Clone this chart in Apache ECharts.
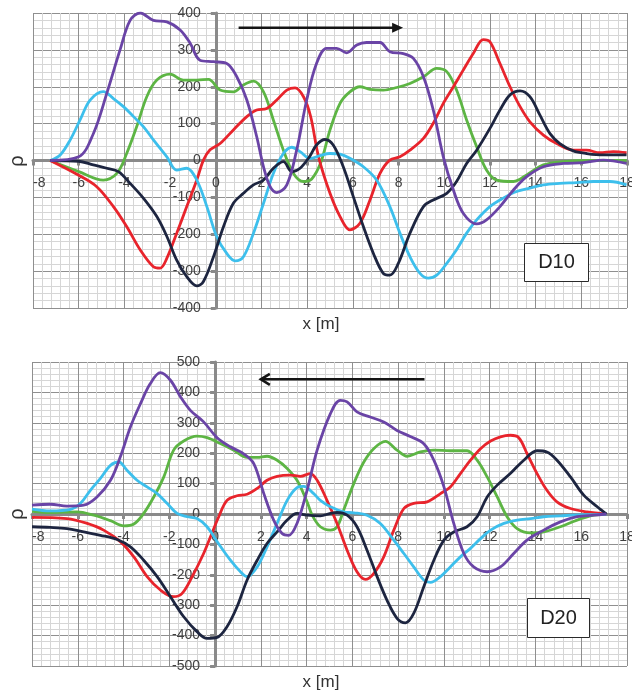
<!DOCTYPE html>
<html>
<head>
<meta charset="utf-8">
<script src="https://cdn.jsdelivr.net/npm/echarts@6/dist/echarts.min.js"></script>
<style>
html,body{margin:0;padding:0;background:#fff;}
#chart{width:632px;height:692px;}
</style>
</head>
<body>
<div id="chart"></div>
<script>
// ---------- Data (x [m], rho) ----------
const xRange = [-8, 18];
const yRangeTop = [-400, 400];
const yRangeBottom = [-500, 500];

const d10Purple = [[-7.25,0],[-6,10],[-5.35,74],[-4.77,182],[-4.19,300],[-3.75,380],[-3.31,400],[-2.73,380],[-2.14,376],[-1.56,354],[-1.12,318],[-0.69,272],[-0.1,268],[0.48,263],[0.92,227],[1.36,164],[1.79,65],[2.09,-17],[2.38,-71],[2.67,-87],[3.11,-66],[3.54,28],[3.98,164],[4.41,263],[4.85,304],[5.29,304],[5.73,292],[6.17,313],[6.6,320],[7.19,320],[7.62,295],[8.21,290],[8.65,277],[9.09,227],[9.52,137],[9.96,10],[10.4,-80],[10.83,-143],[11.42,-172],[11.85,-161],[12.44,-125],[13.03,-80],[13.61,-44],[14.34,-17],[15.21,-8],[16.08,-6],[16.96,1],[17.98,-8]];
const d10Green = [[-7.25,0],[-6,-30],[-4.92,-53],[-4.33,-35],[-3.9,19],[-3.46,92],[-3.02,173],[-2.58,218],[-2.0,234],[-1.42,218],[-0.83,218],[-0.32,220],[0.19,191],[0.77,186],[1.21,205],[1.65,215],[2.09,186],[2.52,110],[2.96,28],[3.4,-35],[3.84,-57],[4.2,-50],[4.6,-5],[5.0,83],[5.44,155],[5.87,186],[6.31,200],[6.75,193],[7.33,191],[7.92,198],[8.5,209],[9.09,227],[9.67,250],[10.11,241],[10.54,191],[10.98,110],[11.42,37],[11.85,-26],[12.29,-53],[13.03,-57],[13.61,-39],[14.34,-12],[15.21,-3],[16.52,0],[17.98,0]];
const d10Red = [[-7.25,0],[-6,-40],[-5.21,-71],[-4.48,-125],[-3.9,-179],[-3.31,-242],[-2.73,-288],[-2.44,-292],[-2.14,-265],[-1.71,-197],[-1.27,-125],[-0.83,-53],[-0.54,1],[-0.25,29],[0.19,46],[0.77,83],[1.36,119],[1.79,137],[2.23,141],[2.67,164],[3.11,191],[3.47,197],[3.84,173],[4.15,120],[4.5,10],[5.0,-89],[5.44,-152],[5.87,-188],[6.31,-170],[6.75,-107],[7.19,-35],[7.62,1],[8.06,10],[8.5,28],[9.09,60],[9.52,101],[9.96,155],[10.4,200],[10.83,245],[11.27,290],[11.71,328],[12.0,322],[12.44,263],[12.88,200],[13.32,146],[13.75,105],[14.34,69],[14.92,46],[15.65,28],[16.23,28],[16.81,21],[17.4,24],[17.98,21]];
const d10Navy = [[-7.25,0],[-6,-2],[-5.36,-12],[-4.77,-21],[-4.26,-30],[-3.75,-62],[-3.17,-102],[-2.58,-152],[-2.14,-206],[-1.71,-270],[-1.27,-315],[-0.83,-340],[-0.54,-328],[-0.1,-261],[0.34,-179],[0.77,-116],[1.21,-89],[1.65,-66],[2.09,-53],[2.52,-21],[2.96,-3],[3.33,-30],[3.69,-21],[4.12,12],[4.41,42],[4.78,57],[5.14,42],[5.58,-17],[6.02,-98],[6.46,-179],[6.9,-252],[7.33,-306],[7.62,-311],[7.99,-279],[8.5,-197],[9.09,-125],[9.52,-107],[10.11,-89],[10.54,-57],[10.98,-8],[11.42,28],[12.0,87],[12.44,137],[12.88,178],[13.32,189],[13.75,173],[14.19,123],[14.63,73],[15.06,46],[15.65,26],[16.23,19],[16.96,15],[17.98,15]];
const d10Cyan = [[-7.25,0],[-6.81,15],[-6.37,56],[-5.94,110],[-5.5,164],[-4.92,187],[-4.48,168],[-4.04,146],[-3.6,119],[-3.17,92],[-2.73,56],[-2.14,10],[-1.71,-26],[-1.27,-21],[-0.83,-53],[-0.39,-125],[0.04,-206],[0.48,-252],[0.85,-272],[1.21,-261],[1.65,-197],[2.09,-116],[2.52,-35],[2.96,19],[3.33,36],[3.69,24],[4.13,5],[4.56,13],[5.0,19],[5.44,17],[5.87,6],[6.46,-17],[7.04,-53],[7.62,-125],[8.06,-197],[8.5,-261],[8.94,-306],[9.3,-319],[9.67,-311],[10.11,-279],[10.54,-242],[10.98,-197],[11.42,-161],[12.0,-125],[12.58,-102],[13.17,-84],[13.75,-75],[14.34,-66],[15.06,-62],[15.79,-60],[16.52,-57],[17.25,-57],[17.98,-66]];

const d20Purple = [[-8,29],[-7.2,32],[-6.47,26],[-5.74,29],[-5.16,56],[-4.57,111],[-4.14,188],[-3.7,286],[-3.26,363],[-2.83,429],[-2.39,465],[-1.95,440],[-1.51,385],[-1.08,341],[-0.5,303],[0.09,251],[0.67,221],[1.25,198],[1.69,166],[2.13,67],[2.56,-20],[2.93,-64],[3.22,-70],[3.58,-31],[4.02,78],[4.46,210],[5.04,330],[5.47,374],[5.77,369],[6.2,336],[6.78,319],[7.37,303],[7.95,275],[8.53,255],[9.12,231],[9.56,177],[10.0,89],[10.43,-31],[10.87,-130],[11.3,-174],[11.89,-190],[12.47,-174],[13.05,-130],[13.63,-86],[14.36,-53],[15.09,-26],[15.82,-9],[16.55,-4],[17.1,0]];
const d20Green = [[-8,9],[-7.2,5],[-6.03,7],[-5.3,-4],[-4.57,-22],[-3.99,-39],[-3.55,-33],[-3.12,2],[-2.68,56],[-2.24,122],[-1.81,210],[-1.37,240],[-0.79,256],[-0.35,251],[0.23,232],[0.82,210],[1.4,186],[1.84,186],[2.27,190],[2.71,177],[3.15,150],[3.58,111],[4.02,40],[4.25,-5],[4.6,-42],[5.04,-53],[5.33,-42],[5.62,13],[6.06,100],[6.5,171],[6.93,215],[7.44,239],[7.95,210],[8.39,190],[8.97,204],[9.56,210],[10.28,208],[11.01,208],[11.45,177],[11.89,122],[12.33,56],[12.76,-9],[13.2,-48],[13.78,-62],[14.36,-59],[15.09,-42],[15.82,-20],[16.55,-4],[17.1,0]];
const d20Red = [[-8,-11],[-6.47,-15],[-5.59,-31],[-4.87,-53],[-4.14,-91],[-3.55,-141],[-2.97,-206],[-2.39,-250],[-1.81,-272],[-1.44,-261],[-1.0,-206],[-0.5,-130],[-0.2,-75],[0.16,-9],[0.52,45],[0.96,60],[1.4,65],[1.84,84],[2.27,111],[2.71,124],[3.29,128],[3.73,124],[4.16,133],[4.46,111],[4.89,45],[5.33,-31],[5.77,-119],[6.2,-190],[6.57,-215],[6.93,-196],[7.37,-141],[7.81,-53],[8.25,18],[8.68,35],[9.27,40],[9.85,67],[10.28,89],[10.72,133],[11.16,177],[11.6,215],[12.04,240],[12.47,254],[12.9,259],[13.27,251],[13.63,199],[14.07,133],[14.5,78],[14.94,40],[15.53,18],[16.25,7],[17.1,0]];
const d20Navy = [[-8,-42],[-7.2,-44],[-6.47,-48],[-5.74,-59],[-5.01,-70],[-4.28,-84],[-3.7,-108],[-3.12,-152],[-2.53,-206],[-1.95,-272],[-1.37,-338],[-0.79,-387],[-0.35,-409],[0.09,-406],[0.52,-371],[0.96,-305],[1.4,-217],[1.84,-152],[2.27,-97],[2.71,-59],[3.15,-20],[3.58,2],[4.02,-4],[4.6,-6],[5.04,2],[5.33,5],[5.77,-4],[6.2,-42],[6.64,-119],[7.08,-206],[7.51,-283],[7.95,-343],[8.32,-358],[8.68,-327],[9.12,-239],[9.56,-152],[10.0,-86],[10.43,-59],[11.01,-42],[11.45,-9],[11.89,56],[12.33,95],[12.9,133],[13.49,177],[14.07,208],[14.5,204],[14.94,177],[15.53,122],[16.11,62],[16.7,24],[17.1,0]];
const d20Cyan = [[-8,16],[-7.2,10],[-6.32,15],[-5.88,35],[-5.45,78],[-5.01,117],[-4.57,160],[-4.21,171],[-3.85,144],[-3.41,111],[-2.97,89],[-2.53,67],[-2.1,35],[-1.66,2],[-1.22,-9],[-0.79,-15],[-0.35,-42],[0.09,-91],[0.67,-152],[1.11,-190],[1.4,-206],[1.84,-174],[2.27,-108],[2.71,-31],[3.15,45],[3.58,87],[3.87,91],[4.31,67],[4.6,45],[5.04,24],[5.62,7],[6.06,4],[6.64,-4],[7.22,-31],[7.81,-86],[8.25,-130],[8.68,-174],[9.12,-217],[9.41,-225],[9.85,-206],[10.28,-174],[10.72,-141],[11.16,-113],[11.6,-81],[12.04,-53],[12.62,-31],[13.2,-20],[13.78,-15],[14.36,-9],[15.09,-6],[15.82,-3],[16.55,-2],[17.1,0]];

// arrows (data coordinates: start, end)
const arrowTop = [[1.0, 360], [8.2, 360]];
const arrowBottom = [[9.15, 443], [2.0, 443]];
const panelLabels = ['D10', 'D20'];

// ---------- Chart ----------
const COLORS = { purple:'#6a44a6', green:'#5db544', red:'#e8242c', navy:'#1d2540', cyan:'#3dbfec' };
const FONT = '"Liberation Sans", Arial, sans-serif';
const GRIDS = [
  {left:33, top:13, width:594, height:295},
  {left:32, top:362, width:595, height:304}
];
const YR = [yRangeTop, yRangeBottom];

// axis offsets so that axes sit on the zero lines
function xOffset(gi) { const g = GRIDS[gi], r = YR[gi]; return -g.height * (0 - r[0]) / (r[1] - r[0]); }
function yOffset(gi) { const g = GRIDS[gi]; return -g.width * (0 - xRange[0]) / (xRange[1] - xRange[0]); }

function xAxisCfg(gi) {
  return {
    type:'value', gridIndex:gi, min:xRange[0], max:xRange[1], interval:2,
    position:'bottom', offset:xOffset(gi),
    axisLine:{show:true, onZero:false, lineStyle:{color:'#8a8a8a', width:3}},
    axisTick:{show:true, length:5, lineStyle:{color:'#8a8a8a', width:3}},
    axisLabel:{fontSize:14, color:'#404040', fontFamily:FONT, margin:16, showMinLabel:true, showMaxLabel:true, alignMinLabel:'left'},
    splitLine:{show:true, lineStyle:{color:'#8f8f8f', width:1}},
    minorTick:{show:false, splitNumber:5},
    minorSplitLine:{show:true, lineStyle:{color:'#d6d6d6', width:1}}
  };
}
function yAxisCfg(gi) {
  return {
    type:'value', gridIndex:gi, min:YR[gi][0], max:YR[gi][1], interval:100,
    position:'left', offset:yOffset(gi),
    axisLine:{show:true, onZero:false, lineStyle:{color:'#8a8a8a', width:3}},
    axisTick:{show:true, length:5, lineStyle:{color:'#8a8a8a', width:3}},
    axisLabel:{fontSize:14, color:'#404040', fontFamily:FONT, margin:15},
    splitLine:{show:true, lineStyle:{color:'#8f8f8f', width:1}},
    minorTick:{show:false, splitNumber:5},
    minorSplitLine:{show:true, lineStyle:{color:'#d6d6d6', width:1}}
  };
}
function line(data, color, gi) {
  return {
    type:'line', xAxisIndex:gi, yAxisIndex:gi, data:data, smooth:0.35,
    showSymbol:false, symbol:'none', silent:true,
    lineStyle:{color:color, width:2.8}, z:10
  };
}

const chart = echarts.init(document.getElementById('chart'), null, {renderer:'canvas'});
const option = {
  animation:false,
  backgroundColor:'#fff',
  grid: GRIDS.map(g => Object.assign({containLabel:false, outerBoundsMode:'none'}, g)),
  xAxis:[xAxisCfg(0), xAxisCfg(1)],
  yAxis:[yAxisCfg(0), yAxisCfg(1)],
  series:[
    line(d10Green, COLORS.green, 0),
    line(d10Red, COLORS.red, 0),
    line(d10Cyan, COLORS.cyan, 0),
    line(d10Navy, COLORS.navy, 0),
    line(d10Purple, COLORS.purple, 0),
    line(d20Green, COLORS.green, 1),
    line(d20Red, COLORS.red, 1),
    line(d20Cyan, COLORS.cyan, 1),
    line(d20Navy, COLORS.navy, 1),
    line(d20Purple, COLORS.purple, 1)
  ]
};
chart.setOption(option);

// annotations: arrows placed through the axes' scales
function arrowGraphics(gi, a, open) {
  const p0 = chart.convertToPixel({gridIndex:gi}, a[0]);
  const p1 = chart.convertToPixel({gridIndex:gi}, a[1]);
  const dir = p1[0] > p0[0] ? 1 : -1;
  const items = [];
  if (open) {
    const L = 9, H = 5.5;
    items.push({type:'line', z:50, shape:{x1:p0[0], y1:p0[1], x2:p1[0] + dir * -1, y2:p1[1]}, style:{stroke:'#151515', lineWidth:2.5}});
    items.push({type:'polyline', z:50, shape:{points:[[p1[0] - dir * L, p1[1] - H], [p1[0], p1[1]], [p1[0] - dir * L, p1[1] + H]]}, style:{stroke:'#151515', lineWidth:2.6, fill:null, lineJoin:'miter'}});
  } else {
    const L = 11, H = 5;
    items.push({type:'line', z:50, shape:{x1:p0[0], y1:p0[1], x2:p1[0] - dir * (L - 2), y2:p1[1]}, style:{stroke:'#151515', lineWidth:2.5}});
    items.push({type:'polygon', z:50, shape:{points:[[p1[0], p1[1]], [p1[0] - dir * L, p1[1] - H], [p1[0] - dir * L, p1[1] + H]]}, style:{fill:'#151515'}});
  }
  return items;
}

const graphics = [
  {type:'text', x:17, y:161, rotation:Math.PI/2, z:50, style:{text:'ρ', fontSize:20, fontFamily:FONT, fill:'#333', align:'center', verticalAlign:'middle'}},
  {type:'text', x:17, y:514, rotation:Math.PI/2, z:50, style:{text:'ρ', fontSize:20, fontFamily:FONT, fill:'#333', align:'center', verticalAlign:'middle'}},
  {type:'text', x:321, y:324, z:50, style:{text:'x [m]', fontSize:17, fontFamily:FONT, fill:'#333', align:'center', verticalAlign:'middle'}},
  {type:'text', x:321, y:682, z:50, style:{text:'x [m]', fontSize:17, fontFamily:FONT, fill:'#333', align:'center', verticalAlign:'middle'}},
  {type:'group', x:524.5, y:243.5, z:100, children:[
    {type:'rect', z:100, shape:{x:0, y:0, width:64, height:38}, style:{fill:'#fff', stroke:'#2a2a2a', lineWidth:1}},
    {type:'text', z:101, x:32, y:19, style:{text:panelLabels[0], fontSize:20, fontFamily:FONT, fill:'#222', align:'center', verticalAlign:'middle'}}
  ]},
  {type:'group', x:527.5, y:598.5, z:100, children:[
    {type:'rect', z:100, shape:{x:0, y:0, width:62, height:39}, style:{fill:'#fff', stroke:'#2a2a2a', lineWidth:1}},
    {type:'text', z:101, x:31, y:19.5, style:{text:panelLabels[1], fontSize:20, fontFamily:FONT, fill:'#222', align:'center', verticalAlign:'middle'}}
  ]}
].concat(arrowGraphics(0, arrowTop, false), arrowGraphics(1, arrowBottom, true));

chart.setOption({graphic: graphics});
</script>
</body>
</html>
